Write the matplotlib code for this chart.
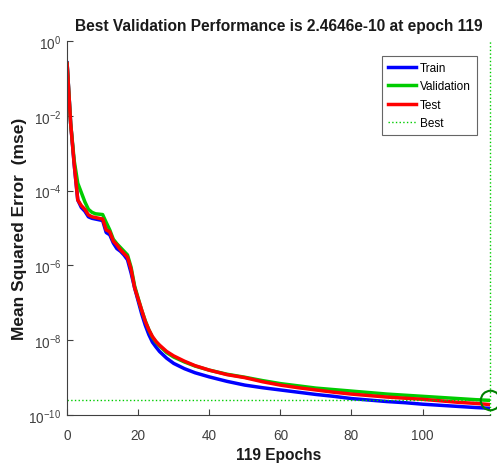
import numpy as np
import matplotlib
matplotlib.use("Agg")
import matplotlib.pyplot as plt

plt.rcParams['font.family'] = ['Liberation Sans', 'DejaVu Sans']
plt.rcParams['mathtext.fontset'] = 'custom'
plt.rcParams['mathtext.rm'] = 'Liberation Sans'
plt.rcParams['mathtext.default'] = 'regular'

# epochs where values were read, and log10(mse) for each series
epochs = [0, 1, 2, 3, 4, 5, 6, 7, 8, 9, 10, 11, 12, 13, 14, 15, 16, 17, 18, 19,
          20, 21, 22, 23, 24, 25, 26, 28, 30, 33, 36, 40, 45, 50, 55, 60, 65,
          70, 75, 80, 85, 90, 95, 100, 105, 110, 115, 119]

train_log = [-0.58, -2.2, -3.3, -4.25, -4.45, -4.55, -4.7, -4.74, -4.76, -4.78,
             -4.8, -5.12, -5.18, -5.4, -5.55, -5.62, -5.72, -5.85, -6.2, -6.6,
             -6.95, -7.3, -7.6, -7.85, -8.05, -8.18, -8.3, -8.48, -8.62, -8.76,
             -8.87, -8.98, -9.1, -9.2, -9.27, -9.33, -9.39, -9.45, -9.5, -9.56,
             -9.6, -9.64, -9.67, -9.71, -9.74, -9.77, -9.8, -9.82]

val_log = [-0.6, -2.2, -3.2, -3.8, -4.05, -4.3, -4.5, -4.58, -4.62, -4.63,
           -4.64, -4.85, -5.05, -5.3, -5.42, -5.52, -5.62, -5.72, -6.05, -6.55,
           -6.88, -7.2, -7.48, -7.72, -7.92, -8.05, -8.15, -8.33, -8.45, -8.58,
           -8.69, -8.8, -8.91, -8.99, -9.08, -9.16, -9.22, -9.28, -9.32, -9.36,
           -9.4, -9.44, -9.47, -9.5, -9.53, -9.56, -9.59, -9.608]

test_log = [-0.6, -2.2, -3.3, -4.25, -4.4, -4.5, -4.65, -4.7, -4.72, -4.74,
            -4.76, -5.05, -5.1, -5.35, -5.45, -5.58, -5.68, -5.78, -6.1, -6.6,
            -6.9, -7.2, -7.5, -7.72, -7.9, -8.03, -8.13, -8.3, -8.42, -8.56,
            -8.68, -8.8, -8.92, -9.0, -9.11, -9.2, -9.27, -9.33, -9.39, -9.44,
            -9.48, -9.52, -9.55, -9.58, -9.62, -9.66, -9.69, -9.72]

best_epoch = 119
best_perf = 2.4646e-10

fig = plt.figure(figsize=(4.97, 4.64), dpi=100)
ax = fig.add_axes([0.135, 0.1034, 0.851, 0.806])

ax.semilogy(epochs, 10 ** np.array(train_log), color=(0, 0, 1), lw=2.5, label='Train')
ax.semilogy(epochs, 10 ** np.array(val_log), color=(0, 0.8, 0), lw=2.5, label='Validation')
ax.semilogy(epochs, 10 ** np.array(test_log), color=(1, 0, 0), lw=2.5, label='Test')

# best markers
ax.plot([best_epoch, best_epoch], [1e-10, 1], ls=':', color=(0, 0.8, 0), lw=1, label='Best', clip_on=False)
ax.plot([0, best_epoch], [best_perf, best_perf], ls=':', color=(0, 0.8, 0), lw=1)
ax.plot([best_epoch], [best_perf], 'o', ms=14, mfc='none', mec=(0, 0.5, 0), mew=1.5, clip_on=False)

ax.set_xlim(0, 119)
ax.set_ylim(1e-10, 1)
ax.set_xticks([0, 20, 40, 60, 80, 100])
ax.set_yticks([1e-10, 1e-8, 1e-6, 1e-4, 1e-2, 1])
ax.yaxis.set_minor_locator(matplotlib.ticker.NullLocator())

for s in ['top', 'right']:
    ax.spines[s].set_visible(False)
for s in ['left', 'bottom']:
    ax.spines[s].set_color('#404040')
ax.tick_params(direction='in', length=4, colors='#404040', labelsize=9.8)
ax.tick_params(axis='x', pad=9)
ax.tick_params(axis='y', pad=4)

ax.set_title('Best Validation Performance is 2.4646e-10 at epoch 119',
             fontsize=11.2, fontweight='bold', pad=8, color='#1a1a1a')
ax.set_xlabel('119 Epochs', fontsize=11.2, fontweight='bold', color='#1a1a1a', labelpad=4)
ax.set_ylabel('Mean Squared Error  (mse)', fontsize=12.5, fontweight='bold', color='#1a1a1a')
ax.yaxis.set_label_coords(-0.095, 0.5)

handles, labels = ax.get_legend_handles_labels()
leg = ax.legend(handles, labels, loc='upper right', bbox_to_anchor=(0.968, 0.96),
                fontsize=8.5, frameon=True, fancybox=False, handlelength=2.4,
                handletextpad=0.3, borderpad=0.5, labelspacing=0.55, borderaxespad=0)
leg.get_frame().set_edgecolor('#404040')
leg.get_frame().set_linewidth(0.8)

fig.savefig('out.png', dpi=100)
